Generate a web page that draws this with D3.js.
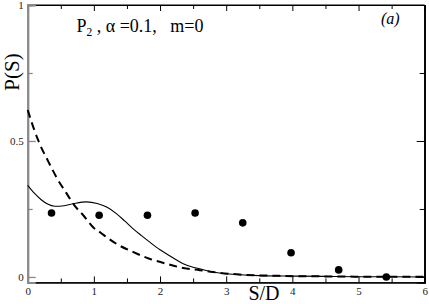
<!DOCTYPE html>
<html><head><meta charset="utf-8">
<script src="https://cdn.jsdelivr.net/npm/d3@7"></script>
<style>
html,body{margin:0;padding:0;background:#fff;}
svg{display:block;}
text{font-family:"Liberation Serif","Times New Roman",serif;}
.pre{white-space:pre;}
</style></head>
<body>
<svg id="c" width="429" height="304"></svg>
<script>
// ---- data ----
const solidX = [0, 0.1, 0.2, 0.3, 0.41, 0.55, 0.7, 0.89, 1.05, 1.2, 1.34, 1.47, 1.59, 1.72, 1.84, 2.0, 2.09, 2.2, 2.35, 2.5, 2.6, 2.8, 3.0, 3.5, 4.0, 4.5, 5.0, 5.5, 6.0];
const solidY = [0.337, 0.308, 0.285, 0.268, 0.26, 0.262, 0.27, 0.276, 0.27, 0.256, 0.233, 0.205, 0.178, 0.152, 0.129, 0.1, 0.086, 0.07, 0.049, 0.036, 0.03, 0.018, 0.012, 0.005, 0.003, 0.002, 0.001, 0.001, 0.0];
const dashX = [0, 0.1, 0.18, 0.3, 0.45, 0.58, 0.7, 0.84, 1.0, 1.09, 1.2, 1.34, 1.59, 1.84, 2.09, 2.35, 2.6, 2.8, 3.2, 3.8, 4.5, 5.2, 6.0];
const dashY = [0.614, 0.54, 0.49, 0.43, 0.36, 0.31, 0.265, 0.227, 0.18, 0.165, 0.145, 0.122, 0.092, 0.067, 0.049, 0.033, 0.025, 0.018, 0.009, 0.004, 0.002, 0.001, 0.001];
const dotX = [0.36, 1.08, 1.81, 2.53, 3.25, 3.98, 4.70, 5.42];
const dotY = [0.235, 0.227, 0.227, 0.235, 0.199, 0.089, 0.026, 0.0];
const xMajor = [0, 1, 2, 3, 4, 5, 6];
const xMinor = [0.5, 1.5, 2.5, 3.5, 4.5, 5.5];
const yMajor = [0, 0.5, 1];
const yMinor = [0.25, 0.75];
const yLabels = ["0", "0.5", "1"];

// ---- layout ----
const L = 27.7, R = 424.7, T = 5, B = 282.4;
const x = d3.scaleLinear().domain([0, 6]).range([L, R]);
const y = d3.scaleLinear().domain([-0.02, 1]).range([B, T]);
const svg = d3.select("#c");

// frame
svg.append("line").attr("x1", L).attr("x2", R).attr("y1", T).attr("y2", T).attr("stroke", "#000").attr("stroke-width", 1.2);
svg.append("line").attr("x1", R).attr("x2", R).attr("y1", T).attr("y2", B).attr("stroke", "#000").attr("stroke-width", 1.2);

// bottom axis
svg.append("g").attr("transform", `translate(0,${B})`)
  .call(d3.axisBottom(x).tickValues(xMajor).tickSize(-6).tickPadding(5).tickFormat(d3.format("d")));
svg.append("g").attr("transform", `translate(0,${B})`)
  .call(d3.axisBottom(x).tickValues(xMinor).tickSize(-4).tickFormat(""));
// top axis
svg.append("g").attr("transform", `translate(0,${T})`)
  .call(d3.axisTop(x).tickValues(xMajor).tickSize(-6).tickFormat(""));
svg.append("g").attr("transform", `translate(0,${T})`)
  .call(d3.axisTop(x).tickValues(xMinor).tickSize(-4).tickFormat(""));
// right axis
svg.append("g").attr("transform", `translate(${R},0)`)
  .call(d3.axisRight(y).tickValues(yMajor).tickSize(-8).tickFormat(""));
svg.append("g").attr("transform", `translate(${R},0)`)
  .call(d3.axisRight(y).tickValues(yMinor).tickSize(-5).tickFormat(""));
// left axis (gray)
svg.append("g").attr("class", "yl").attr("transform", `translate(${L},0)`)
  .call(d3.axisLeft(y).tickValues(yMajor).tickSize(-8).tickPadding(4).tickFormat((d, i) => yLabels[i]));
svg.append("g").attr("class", "yl").attr("transform", `translate(${L},0)`)
  .call(d3.axisLeft(y).tickValues(yMinor).tickSize(-5).tickFormat(""));

svg.selectAll(".domain").attr("stroke", "#000").attr("stroke-width", 1.2);
svg.selectAll(".tick line").attr("stroke", "#000");
svg.selectAll(".yl .domain").attr("stroke", "#8a8a8a").attr("stroke-width", 2);
svg.selectAll(".yl .tick line").attr("stroke", "#8a8a8a").attr("stroke-width", 1.3);
svg.selectAll(".tick text").attr("font-family", '"Liberation Serif", serif').attr("font-size", 11).attr("fill", "#222");

// curves
const lineGen = d3.line().x(d => x(d[0])).y(d => y(d[1])).curve(d3.curveMonotoneX);
svg.append("path").datum(dashX.map((v, i) => [v, dashY[i]]))
  .attr("d", lineGen).attr("fill", "none").attr("stroke", "#000").attr("stroke-width", 2).attr("stroke-dasharray", "8,5");
svg.append("path").datum(solidX.map((v, i) => [v, solidY[i]]))
  .attr("d", lineGen).attr("fill", "none").attr("stroke", "#000").attr("stroke-width", 1.1);

// dots
svg.selectAll("circle.d").data(dotX.map((v, i) => [v, dotY[i]])).enter().append("circle")
  .attr("class", "d").attr("cx", d => x(d[0])).attr("cy", d => y(d[1])).attr("r", 3.8).attr("fill", "#000");

// labels
svg.append("text").attr("x", 264).attr("y", 299.5).attr("text-anchor", "middle").attr("font-size", 20).text("S/D");
svg.append("text").attr("transform", "translate(18.5,72) rotate(-90)").attr("text-anchor", "middle").attr("font-size", 21).text("P(S)");

const ann = svg.append("text").attr("class", "pre").attr("x", 76.5).attr("y", 31.5).attr("font-size", 18);
ann.append("tspan").text("P");
ann.append("tspan").attr("font-size", 11.5).attr("dy", 4).text("2");
ann.append("tspan").attr("dy", -4).text(" , \u03b1 =0.1,   m=0");
svg.append("text").attr("x", 381).attr("y", 24).attr("font-size", 16).attr("font-style", "italic").text("(a)");
</script>
</body></html>
